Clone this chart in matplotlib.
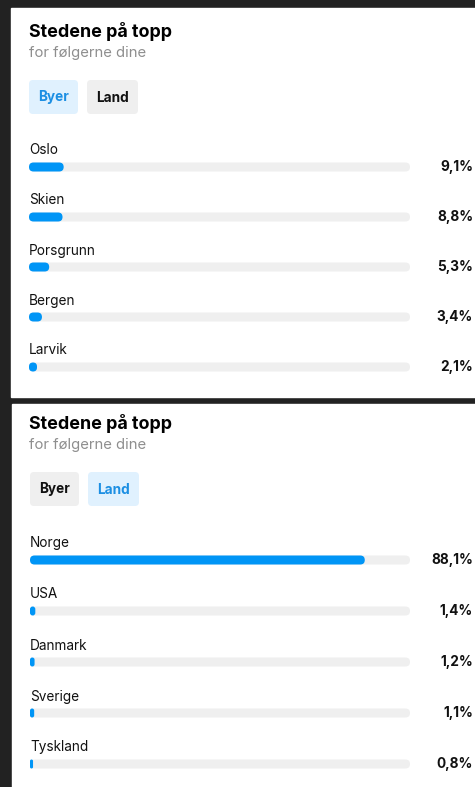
import matplotlib.pyplot as plt
import matplotlib.transforms as mtransforms
from matplotlib.patches import Rectangle, FancyBboxPatch

plt.rcParams['font.family'] = ['Inter', 'DejaVu Sans']

# data
title = "Stedene på topp"
subtitle = "for følgerne dine"
tabs = ["Byer", "Land"]

city_names = ["Oslo", "Skien", "Porsgrunn", "Bergen", "Larvik"]
city_pct = [9.1, 8.8, 5.3, 3.4, 2.1]

country_names = ["Norge", "USA", "Danmark", "Sverige", "Tyskland"]
country_pct = [88.1, 1.4, 1.2, 1.1, 0.8]

W, H = 475, 787
BLUE = "#0095f6"
TRACK = "#efefef"

fig = plt.figure(figsize=(W / 100, H / 100), dpi=100)
fig.patch.set_facecolor("#222222")

bg = fig.add_axes([0, 0, 1, 1])
bg.set_xlim(0, W)
bg.set_ylim(H, 0)
bg.axis("off")
bg.patch.set_alpha(0)


def draw_panel(top, bottom, left, title_y, active, bx, by, names, vals, row0, step):
    bg.add_patch(Rectangle((left, top), W - left, bottom - top, color="white", zorder=0))
    # header
    bg.text(29, title_y, title, fontsize=12.9, fontweight="bold", color="#000000",
            va="baseline", ha="left")
    bg.text(29, title_y + 20, subtitle, fontsize=10.7, color="#8e8e8e", va="baseline", ha="left")
    # tabs
    widths = [49, 51]
    x = bx
    for k, tab in enumerate(tabs):
        on = k == active
        bg.add_patch(FancyBboxPatch((x + 4, by + 4), widths[k] - 8, 34 - 8,
                                    boxstyle="round,pad=4",
                                    fc="#e0f1fe" if on else "#efefef", ec="none", zorder=1))
        bg.text(x + widths[k] / 2, by + 17.5, tab, fontsize=9.8, fontweight="bold",
                color="#1c8fe3" if on else "#111111", ha="center", va="center", zorder=2)
        x += widths[k] + 9

    # bars
    x0, x1 = bx, 410
    ytop = row0 - 0.8 * step
    ybot = row0 + 4.45 * step
    ax = fig.add_axes([x0 / W, 1 - ybot / H, (x1 - x0) / W, (ybot - ytop) / H])
    ax.set_xlim(0, 100)
    ax.set_ylim(4.45, -0.8)
    ax.axis("off")
    ax.patch.set_alpha(0)

    px = (x1 - x0) / 100.0
    aspect = px / step
    bar_h = 9.0 / step
    r = 4.5 / px
    tr = mtransforms.blended_transform_factory(fig.transFigure, ax.transData)
    for i, (name, v) in enumerate(zip(names, vals)):
        ax.add_patch(FancyBboxPatch((0, i - bar_h / 2), 100, bar_h,
                                    boxstyle=f"round,pad=0,rounding_size={r}",
                                    mutation_aspect=aspect, fc=TRACK, ec="none"))
        ax.add_patch(FancyBboxPatch((0, i - bar_h / 2), v, bar_h,
                                    boxstyle=f"round,pad=0,rounding_size={min(r, v / 2)}",
                                    mutation_aspect=aspect, fc=BLUE, ec="none"))
        ax.annotate(name, xy=(0, i), xytext=(0, 16.5 * 0.72), textcoords="offset points",
                    fontsize=9.8, color="#111111", ha="left", va="center")
        ax.text(473 / W, i, f"{v:.1f}".replace(".", ",") + "%", transform=tr,
                fontsize=9.8, fontweight="bold", color="#111111", ha="right", va="center")


draw_panel(8, 397, 11, 37, 0, 29, 80, city_names, city_pct, 167, 50)
draw_panel(404, 790, 12, 429, 1, 30, 472, country_names, country_pct, 560, 51)

fig.savefig("out.png", dpi=100, facecolor=fig.get_facecolor())
